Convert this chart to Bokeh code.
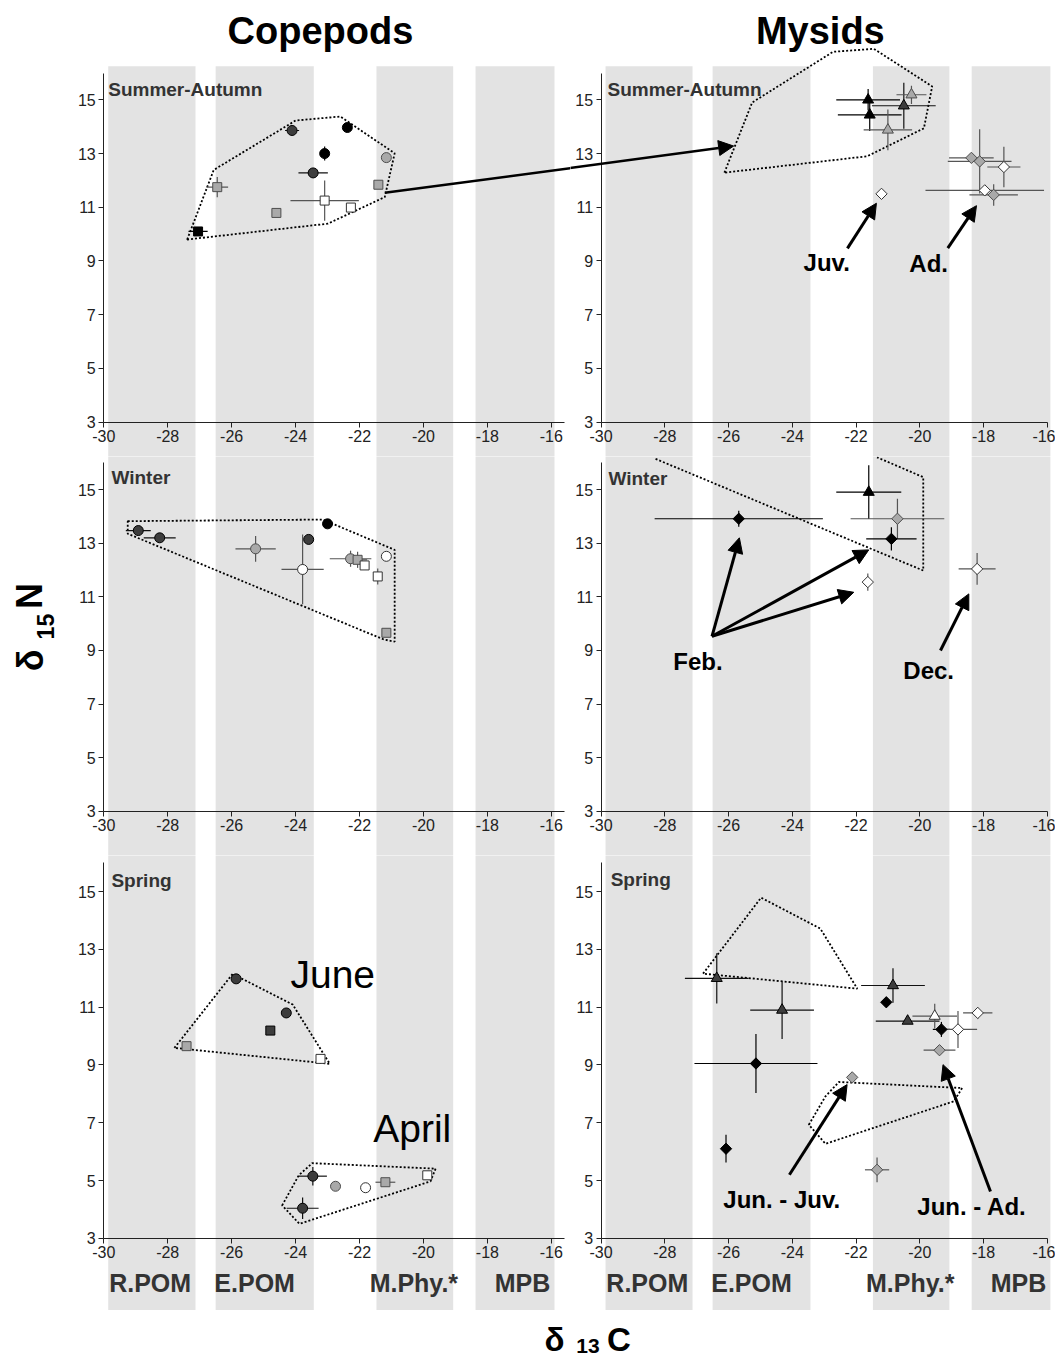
import math
from bokeh.plotting import figure
from bokeh.layouts import column, row
from bokeh.models import Arrow, NormalHead, FixedTicker, Range1d
from bokeh.core.properties import value
from bokeh.embed import file_html
from bokeh.resources import INLINE

FONT = "Liberation Sans"

# ---------------- axes ----------------
X_TICKS = [-30, -28, -26, -24, -22, -20, -18, -16]
Y_TICKS = [3, 5, 7, 9, 11, 13, 15]
X_TICK_LABELS = ["-30", "-28", "-26", "-24", "-22", "-20", "-18", "-16"]

# ---------------- source bands (d13C) ----------------
band_names = ["R.POM", "E.POM", "M.Phy.*", "MPB"]
band_lo = [-29.86, -26.50, -21.47, -18.37]
band_hi = [-27.13, -23.43, -19.07, -15.90]
band_label_x = [-28.55, -25.28, -20.30, -16.90]

# ---------------- Copepods : Summer-Autumn ----------------
cop_sa_group = ["Sb", "Sg", "Sg", "Cd", "Cb", "Cd", "Cb", "Cg", "Sg", "Sw", "Sw"]
cop_sa_c = [-27.05, -26.45, -24.60, -24.11, -23.09, -23.45, -22.38, -21.16, -21.41, -23.09, -22.27]
cop_sa_n = [10.10, 11.75, 10.79, 13.86, 13.00, 12.28, 13.97, 12.85, 11.84, 11.25, 10.99]
cop_sa_sdc = [0.30, 0.34, 0.10, 0.22, 0.05, 0.46, 0.0, 0.0, 0.0, 1.07, 0.0]
cop_sa_sdn = [0.0, 0.38, 0.10, 0.05, 0.26, 0.05, 0.0, 0.0, 0.0, 0.75, 0.0]
cop_sa_hull_c = [-27.39, -26.56, -24.00, -22.60, -20.90, -21.21, -22.99]
cop_sa_hull_n = [9.80, 12.39, 14.23, 14.38, 13.01, 11.38, 10.39]

# ---------------- Copepods : Winter ----------------
cop_wi_group = ["Cd", "Cd", "Cg", "Cw", "Cd", "Cb", "Cg", "Sg", "Sw", "Cw", "Sw", "Sg"]
cop_wi_c = [-28.92, -28.25, -25.25, -23.78, -23.59, -23.00, -22.28, -22.06, -21.84, -21.16, -21.43, -21.16]
cop_wi_n = [13.47, 13.20, 12.79, 12.02, 13.14, 13.72, 12.42, 12.38, 12.17, 12.51, 11.76, 9.66]
cop_wi_sdc = [0.39, 0.50, 0.63, 0.66, 0.0, 0.0, 0.65, 0.30, 0.0, 0.0, 0.0, 0.0]
cop_wi_sdn = [0.0, 0.0, 0.48, 1.30, 0.0, 0.15, 0.30, 0.30, 0.0, 0.0, 0.30, 0.0]
cop_wi_hull_c = [-29.25, -23.15, -20.90, -20.90, -21.24, -29.25]
cop_wi_hull_n = [13.82, 13.88, 12.75, 9.33, 9.41, 13.35]

# ---------------- Copepods : Spring (June, April) ----------------
cop_sp_group = ["Cd", "Cd", "Sd", "Sg", "Sw", "Cd", "Cd", "Cg", "Cw", "Sg", "Sw"]
cop_sp_c = [-25.86, -24.29, -24.79, -27.41, -23.22, -23.46, -23.78, -22.75, -21.81, -21.19, -19.88]
cop_sp_n = [11.98, 10.80, 10.19, 9.65, 9.21, 5.15, 4.04, 4.80, 4.75, 4.94, 5.18]
cop_sp_sdc = [0.10, 0.0, 0.05, 0.0, 0.0, 0.44, 0.50, 0.0, 0.0, 0.31, 0.0]
cop_sp_sdn = [0.10, 0.0, 0.05, 0.0, 0.0, 0.32, 0.37, 0.0, 0.0, 0.0, 0.0]
cop_jun_hull_c = [-27.79, -25.97, -24.09, -22.93]
cop_jun_hull_n = [9.59, 12.15, 11.09, 9.04]
cop_apr_hull_c = [-24.42, -23.90, -23.48, -19.62, -19.78, -23.88]
cop_apr_hull_n = [4.14, 5.18, 5.60, 5.41, 4.97, 3.50]

# ---------------- Mysids : Summer-Autumn ----------------
mys_sa_group = ["Tb", "Tb", "Tg", "Td", "Tg", "Dg", "Dg", "Dw", "Dw", "Dg", "Dw"]
mys_sa_c = [-21.62, -21.57, -21.00, -20.50, -20.26, -18.38, -18.12, -17.36, -17.96, -17.68, -21.20]
mys_sa_n = [15.00, 14.44, 13.88, 14.78, 15.19, 12.84, 12.71, 12.50, 11.63, 11.46, 11.50]
mys_sa_sdc = [1.00, 1.00, 0.76, 1.00, 0.47, 0.70, 1.00, 0.52, 1.86, 0.76, 0.0]
mys_sa_sdn = [0.40, 0.60, 0.76, 0.86, 0.34, 0.10, 1.20, 0.75, 0.0, 0.40, 0.0]
mys_sa_hull_c = [-26.13, -25.26, -22.72, -21.44, -19.61, -19.87, -21.65]
mys_sa_hull_n = [12.29, 14.90, 16.79, 16.90, 15.50, 13.94, 12.90]

# ---------------- Mysids : Winter ----------------
mys_wi_group = ["Tb", "Dg", "Db", "Db", "Dw", "Dw"]
mys_wi_c = [-21.60, -20.70, -20.89, -25.68, -21.63, -18.20]
mys_wi_n = [14.90, 13.91, 13.16, 13.91, 11.55, 12.04]
mys_wi_sdc = [1.02, 1.47, 0.79, 2.64, 0.0, 0.58]
mys_wi_sdn = [1.00, 0.75, 0.43, 0.30, 0.32, 0.59]
mys_wi_hull_c = [-28.29, -19.89, -19.89, -21.34]
mys_wi_hull_n = [16.14, 11.98, 15.46, 16.20]

# ---------------- Mysids : Spring ----------------
mys_sp_group = ["Td", "Td", "Td", "Td", "Tw", "Db", "Db", "Dw", "Dw", "Dg", "Db", "Db", "Dg", "Dg"]
mys_sp_c = [-26.37, -24.32, -20.84, -20.38, -19.53, -21.05, -19.32, -18.80, -18.18, -19.38, -25.14, -26.08, -22.12, -21.34]
mys_sp_n = [12.00, 10.90, 11.75, 10.52, 10.69, 11.17, 10.23, 10.23, 10.80, 9.51, 9.05, 6.10, 8.57, 5.37]
mys_sp_sdc = [1.00, 1.00, 1.00, 1.00, 0.70, 0.0, 0.27, 0.60, 0.46, 0.50, 1.93, 0.0, 0.0, 0.38]
mys_sp_sdn = [0.87, 1.00, 0.60, 0.10, 0.43, 0.0, 0.26, 0.64, 0.20, 0.0, 1.02, 0.48, 0.0, 0.43]
mys_sp_hull1_c = [-26.80, -24.98, -23.12, -21.96]
mys_sp_hull1_n = [12.16, 14.79, 13.72, 11.64]
mys_sp_hull2_c = [-23.48, -22.96, -22.54, -18.67, -18.93, -22.96]
mys_sp_hull2_n = [6.93, 7.91, 8.41, 8.20, 7.74, 6.27]

# ---------------- styles ----------------
SHAPE = {"C": ("circle", 0.0, 10), "S": ("square", 0.0, 9),
         "T": ("triangle", 0.0, 11), "D": ("square", math.pi / 4, 8)}
TONE = {"b": ("#000000", "#000000", "#000000"),
        "d": ("#3d3d3d", "#000000", "#111111"),
        "g": ("#a9a9a9", "#4d4d4d", "#555555"),
        "w": ("#ffffff", "#333333", "#555555")}
BAND_FILL = "#e3e3e3"
TXT = "#333333"

# frame geometry (data ranges)
LEFT_X = (-33.23, -15.40)
RIGHT_X = (-30.96, -15.74)
TOP_Y = (1.72, 18.70)
MID_Y = (1.36, 16.23)
BOT_Y = (0.50, 16.25)
LEFT_W, RIGHT_W = 570, 485
TOP_H, MID_H, BOT_H, STRIP_H = 456, 399, 455, 52


def make_fig(width, height, xr, yr, xbounds, band_top):
    p = figure(width=width, height=height, x_range=Range1d(*xr), y_range=Range1d(*yr),
               output_backend="svg", toolbar_location=None, min_border=0,
               outline_line_color=None, background_fill_color="white",
               border_fill_color="white")
    p.grid.visible = False
    p.xaxis.fixed_location = 3
    p.xaxis.bounds = xbounds
    p.xaxis.ticker = FixedTicker(ticks=X_TICKS)
    p.xaxis.major_label_overrides = dict(zip(X_TICKS, X_TICK_LABELS))
    p.yaxis.fixed_location = -30
    p.yaxis.bounds = (3, 16)
    p.yaxis.ticker = FixedTicker(ticks=Y_TICKS)
    p.axis.major_tick_in = 0
    p.axis.major_tick_out = 5
    p.axis.minor_tick_line_color = None
    p.axis.axis_line_color = "#222222"
    p.axis.major_tick_line_color = "#222222"
    p.axis.major_label_text_font = FONT
    p.axis.major_label_text_font_size = "16px"
    p.axis.major_label_text_color = "#222222"
    p.axis.major_label_standoff = 3
    p.quad(left=band_lo, right=band_hi, bottom=yr[0] - 1, top=band_top,
           fill_color=BAND_FILL, line_color=None, level="underlay")
    return p


def hull(p, xs, ys, closed=True):
    if closed:
        p.patch(xs, ys, fill_color=None, line_color="black", line_width=1.8, line_dash="2 2")
    else:
        p.line(xs, ys, line_color="black", line_width=1.8, line_dash="2 2")


def points(p, cs, ns, sdc, sdn, groups):
    for i in range(len(cs)):
        ec = TONE[groups[i][1]][2]
        if sdc[i] > 0:
            p.segment(x0=[cs[i] - sdc[i]], y0=[ns[i]], x1=[cs[i] + sdc[i]], y1=[ns[i]],
                      line_color=ec, line_width=1.2)
        if sdn[i] > 0:
            p.segment(x0=[cs[i]], y0=[ns[i] - sdn[i]], x1=[cs[i]], y1=[ns[i] + sdn[i]],
                      line_color=ec, line_width=1.2)
    for key in dict.fromkeys(groups):
        idx = [i for i, g in enumerate(groups) if g == key]
        marker, ang, size = SHAPE[key[0]]
        fill, line, _ = TONE[key[1]]
        p.scatter(x=[cs[i] for i in idx], y=[ns[i] for i in idx], marker=marker,
                  angle=ang, size=size, fill_color=fill, line_color=line, line_width=1)


def label(p, x, y, text, size, style="bold", color="black", align="center", angle=0.0):
    p.text(x=[x], y=[y], text=[text], text_font=value(FONT), text_font_size=size,
           text_font_style=style, text_color=color, text_align=align,
           text_baseline="middle", angle=angle)


def arrow(p, x0, y0, x1, y1, head=True, width=3):
    end = NormalHead(size=15, fill_color="black", line_color="black") if head else None
    p.add_layout(Arrow(end=end, x_start=x0, y_start=y0, x_end=x1, y_end=y1,
                       line_width=width, line_color="black"))


LB = (-30, -15.6)
RB = (-30, -16)

# ---- top row ----
tl = make_fig(LEFT_W, TOP_H, LEFT_X, TOP_Y, LB, 16.25)
hull(tl, cop_sa_hull_c, cop_sa_hull_n)
points(tl, cop_sa_c, cop_sa_n, cop_sa_sdc, cop_sa_sdn, cop_sa_group)
label(tl, -29.86, 15.40, "Summer-Autumn", "19px", color=TXT, align="left")
label(tl, -23.22, 17.58, "Copepods", "38px")
arrow(tl, -21.21, 11.54, -10.29, 13.26, head=False, width=2.5)

tr = make_fig(RIGHT_W, TOP_H, RIGHT_X, TOP_Y, RB, 16.25)
hull(tr, mys_sa_hull_c, mys_sa_hull_n)
points(tr, mys_sa_c, mys_sa_n, mys_sa_sdc, mys_sa_sdn, mys_sa_group)
label(tr, -29.80, 15.40, "Summer-Autumn", "19px", color=TXT, align="left")
label(tr, -23.12, 17.58, "Mysids", "38px")
arrow(tr, -36.79, 11.54, -25.84, 13.28, width=2.5)
arrow(tr, -22.27, 9.47, -21.36, 11.15)
arrow(tr, -19.12, 9.48, -18.22, 11.06)
label(tr, -22.92, 8.96, "Juv.", "24px")
label(tr, -19.72, 8.89, "Ad.", "24px")

# ---- middle row ----
ml = make_fig(LEFT_W, MID_H, LEFT_X, MID_Y, LB, MID_Y[1] + 1)
hull(ml, cop_wi_hull_c, cop_wi_hull_n)
points(ml, cop_wi_c, cop_wi_n, cop_wi_sdc, cop_wi_sdn, cop_wi_group)
label(ml, -29.76, 15.43, "Winter", "19px", color=TXT, align="left")
# y-axis title: delta 15 N (rotated, subscript drawn smaller)
label(ml, -32.29, 8.63, "δ", "36px", angle=math.pi / 2)
label(ml, -31.82, 9.89, "15", "23px", angle=math.pi / 2)
label(ml, -32.32, 11.03, "N", "36px", angle=math.pi / 2)

mr = make_fig(RIGHT_W, MID_H, RIGHT_X, MID_Y, RB, MID_Y[1] + 1)
hull(mr, mys_wi_hull_c, mys_wi_hull_n, closed=False)
points(mr, mys_wi_c, mys_wi_n, mys_wi_sdc, mys_wi_sdn, mys_wi_group)
label(mr, -29.77, 15.40, "Winter", "19px", color=TXT, align="left")
arrow(mr, -26.52, 9.53, -25.66, 13.20)
arrow(mr, -26.52, 9.53, -21.60, 12.75)
arrow(mr, -26.52, 9.53, -22.07, 11.17)
arrow(mr, -19.35, 9.00, -18.46, 11.11)
label(mr, -26.96, 8.59, "Feb.", "24px")
label(mr, -19.72, 8.25, "Dec.", "24px")

# ---- bottom row ----
bl = make_fig(LEFT_W, BOT_H, LEFT_X, BOT_Y, LB, BOT_Y[1] + 1)
hull(bl, cop_jun_hull_c, cop_jun_hull_n)
hull(bl, cop_apr_hull_c, cop_apr_hull_n)
points(bl, cop_sp_c, cop_sp_n, cop_sp_sdc, cop_sp_sdn, cop_sp_group)
label(bl, -29.76, 15.38, "Spring", "19px", color=TXT, align="left")
label(bl, -24.16, 12.13, "June", "39px", style="normal", align="left")
label(bl, -21.57, 6.79, "April", "39px", style="normal", align="left")

br = make_fig(RIGHT_W, BOT_H, RIGHT_X, BOT_Y, RB, BOT_Y[1] + 1)
hull(br, mys_sp_hull1_c, mys_sp_hull1_n)
hull(br, mys_sp_hull2_c, mys_sp_hull2_n)
points(br, mys_sp_c, mys_sp_n, mys_sp_sdc, mys_sp_sdn, mys_sp_group)
label(br, -29.70, 15.43, "Spring", "19px", color=TXT, align="left")
arrow(br, -24.09, 5.20, -22.28, 8.32)
arrow(br, -17.78, 4.62, -19.27, 9.01)
label(br, -24.33, 4.33, "Jun. - Juv.", "24px")
label(br, -18.36, 4.09, "Jun. - Ad.", "24px")

for p in (bl, br):
    p.text(x=band_label_x, y=[1.45] * 4, text=band_names, text_font=value(FONT),
           text_font_size="25px", text_font_style="bold", text_color=TXT,
           text_align="center", text_baseline="middle")

# ---- bottom strip with x title: delta 13 C ----
STRIP_W = LEFT_W + RIGHT_W
strip = figure(width=STRIP_W, height=STRIP_H, x_range=Range1d(0, STRIP_W),
               y_range=Range1d(0, STRIP_H), output_backend="svg", toolbar_location=None,
               min_border=0, outline_line_color=None)
strip.axis.visible = False
strip.grid.visible = False
for tx, ty, tt, ts in [(554, 23.5, "δ", "33px"), (587.5, 17, "13", "21px"),
                       (618.5, 23.5, "C", "33px")]:
    strip.text(x=[tx], y=[ty], text=[tt], text_font=value(FONT), text_font_size=ts,
               text_font_style="bold", text_color="black", text_align="center",
               text_baseline="middle")

layout = column(row(tl, tr), row(ml, mr), row(bl, br), strip)
open("out.html", "w").write(file_html(layout, INLINE))
